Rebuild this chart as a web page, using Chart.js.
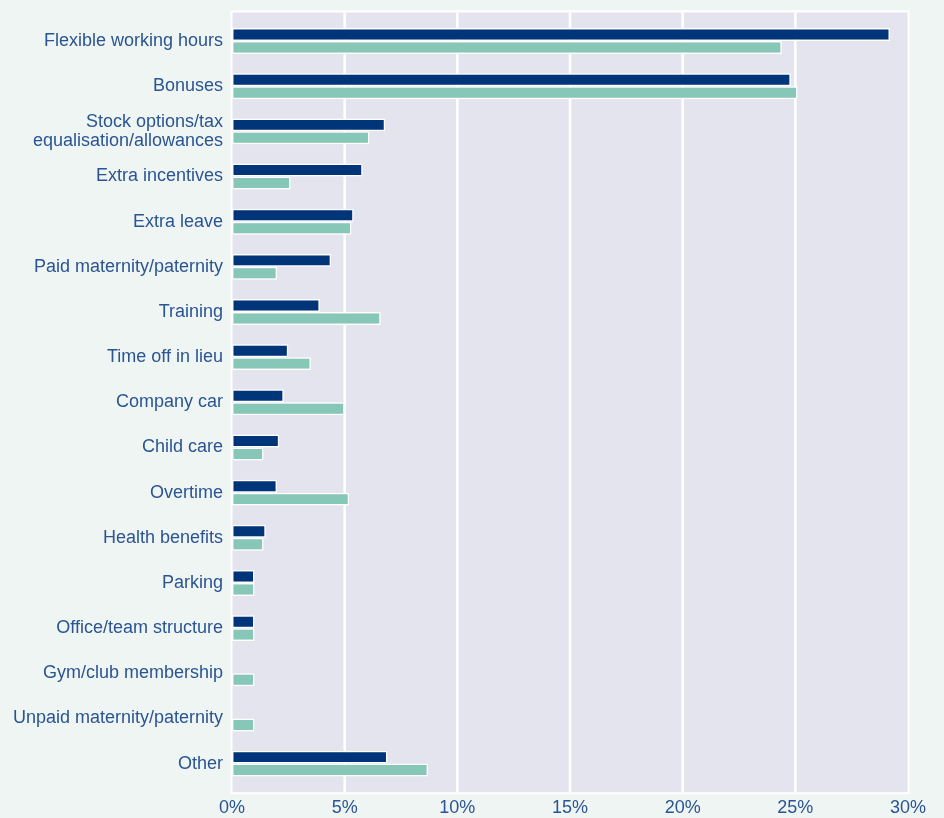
<!DOCTYPE html>
<html>
<head>
<meta charset="utf-8">
<script src="https://cdn.jsdelivr.net/npm/chart.js@4.4.1/dist/chart.umd.min.js"></script>
<style>
  html, body { margin: 0; padding: 0; background: #eff5f3; }
  #wrap { width: 944px; height: 818px; position: relative; }
</style>
</head>
<body>
<div id="wrap"><canvas id="benefitsChart"></canvas></div>
<script>
// categories, top to bottom
const categories = [
    "Flexible working hours",
    "Bonuses",
    ["Stock options/tax", "equalisation/allowances"],
    "Extra incentives",
    "Extra leave",
    "Paid maternity/paternity",
    "Training",
    "Time off in lieu",
    "Company car",
    "Child care",
    "Overtime",
    "Health benefits",
    "Parking",
    "Office/team structure",
    "Gym/club membership",
    "Unpaid maternity/paternity",
    "Other"
];

// dark series (%)
const seriesDark = [29.2, 24.8, 6.8, 5.8, 5.4, 4.4, 3.9, 2.5, 2.3, 2.1, 2.0, 1.5, 1.0, 1.0, 0, 0, 6.9];
// light series (%)
const seriesLight = [24.4, 25.1, 6.1, 2.6, 5.3, 2.0, 6.6, 3.5, 5.0, 1.4, 5.2, 1.4, 1.0, 1.0, 1.0, 1.0, 8.7];

const xTicks = [0, 5, 10, 15, 20, 25, 30];

const textBlue = '#2a5592';
const fontFamily = '"Liberation Sans", Arial, Helvetica, sans-serif';

// lavender plot panel with white frame and white vertical gridlines
const panelPlugin = {
    id: 'panelPlugin',
    beforeDraw(chart) {
        const ctx = chart.ctx;
        const area = chart.chartArea;
        const xScale = chart.scales.x;
        const top = area.top - 6;
        const bottom = area.bottom + 6;
        ctx.save();
        ctx.fillStyle = '#eff5f3';
        ctx.fillRect(0, 0, chart.width, chart.height);
        ctx.fillStyle = '#ffffff';
        ctx.fillRect(area.left - 1.5, top - 2, area.right - area.left + 3, bottom - top + 4);
        ctx.fillStyle = '#e4e4ef';
        ctx.fillRect(area.left + 0.5, top, area.right - area.left - 1, bottom - top);
        ctx.strokeStyle = '#ffffff';
        ctx.lineWidth = 2.5;
        xTicks.slice(1, -1).forEach(v => {
            const px = xScale.getPixelForValue(v);
            ctx.beginPath();
            ctx.moveTo(px, top);
            ctx.lineTo(px, bottom);
            ctx.stroke();
        });
        ctx.restore();
    }
};

new Chart(document.getElementById('benefitsChart'), {
    type: 'bar',
    data: {
        labels: categories,
        datasets: [
            {
                data: seriesDark,
                backgroundColor: '#003679',
                borderColor: '#ffffff',
                borderWidth: 1.5,
                borderSkipped: false,
                categoryPercentage: 0.574,
                barPercentage: 1.0
            },
            {
                data: seriesLight,
                backgroundColor: '#87c7b7',
                borderColor: '#ffffff',
                borderWidth: 1.5,
                borderSkipped: false,
                categoryPercentage: 0.574,
                barPercentage: 1.0
            }
        ]
    },
    options: {
        indexAxis: 'y',
        responsive: true,
        maintainAspectRatio: false,
        animation: false,
        layout: { padding: { top: 15.6, right: 36, left: 0, bottom: 0 } },
        plugins: {
            legend: { display: false },
            tooltip: { enabled: false }
        },
        scales: {
            x: {
                min: 0,
                max: 30,
                afterBuildTicks: scale => { scale.ticks = xTicks.map(v => ({ value: v })); },
                grid: { display: false, drawTicks: false },
                border: { display: false },
                ticks: {
                    color: textBlue,
                    font: { family: fontFamily, size: 18 },
                    padding: 11,
                    callback: v => v + '%'
                },
                afterFit: scale => { scale.height = 31.8; }
            },
            y: {
                grid: { display: false, drawTicks: false },
                border: { display: false },
                ticks: {
                    color: textBlue,
                    font: { family: fontFamily, size: 18, lineHeight: 1.05 },
                    padding: 9,
                    autoSkip: false
                },
                afterFit: scale => { scale.width = 232; }
            }
        }
    },
    plugins: [panelPlugin]
});
</script>
</body>
</html>
